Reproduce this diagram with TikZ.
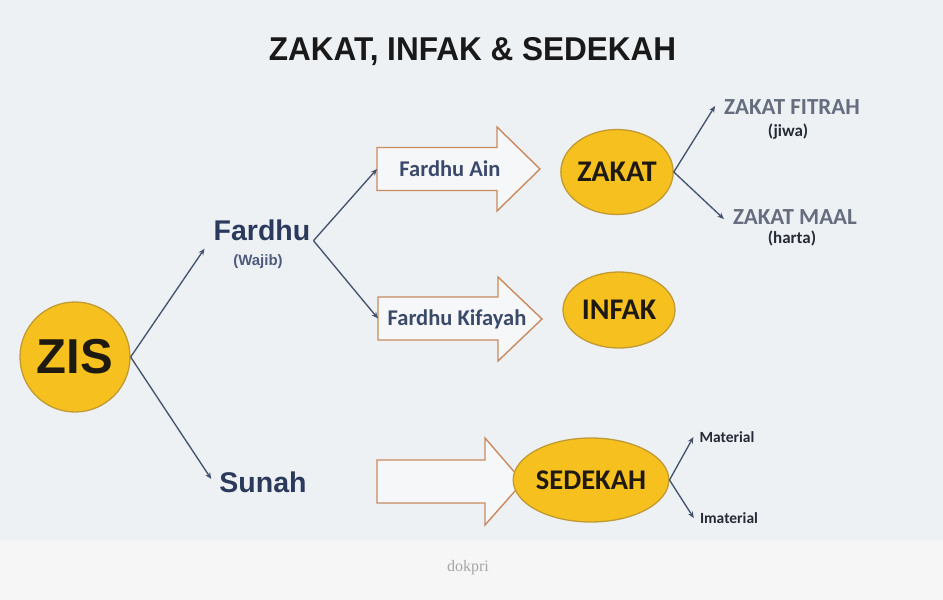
\documentclass[tikz,border=0pt]{standalone}
\usepackage{fontspec}
\setmainfont{Liberation Sans}
\newfontfamily\calib{Carlito}
\newfontfamily\serifdk{Liberation Serif}
\usetikzlibrary{arrows.meta,shapes.geometric}
\definecolor{bgtop}{HTML}{EEF1F4}
\definecolor{bgbot}{HTML}{F6F6F6}
\definecolor{navy}{HTML}{2B3A5C}
\definecolor{navylt}{HTML}{4E5C7C}
\definecolor{arrtxt}{HTML}{3B4A6B}
\definecolor{graytxt}{HTML}{656D7E}
\definecolor{darktxt}{HTML}{262A35}
\definecolor{connc}{HTML}{44546E}
\definecolor{arrline}{HTML}{C98A5F}
\definecolor{arrfill}{HTML}{F5F7F9}
\definecolor{gold}{HTML}{F6C11E}
\definecolor{goldline}{HTML}{C19A34}
\definecolor{ellitxt}{HTML}{1E1A12}
\begin{document}
\begin{tikzpicture}[x=1pt,y=-1pt,
  conn/.style={draw=connc, line width=1.35pt, -{Stealth[length=6.5pt,width=5.5pt]}},
  blockarrow/.style={draw=arrline, line width=1.4pt, fill=arrfill, line join=miter},
  goldcircle/.style={circle, draw=goldline, line width=1.3pt, fill=gold, inner sep=0pt},
  goldellipse/.style={ellipse, draw=goldline, line width=1.3pt, fill=gold, inner sep=0pt,
     text=ellitxt, font=\calib\bfseries\fontsize{30}{34}\selectfont},
  branch/.style={inner sep=0pt, text=navy, font=\bfseries\fontsize{28.5}{32}\selectfont},
  arrowlabel/.style={inner sep=0pt, text=arrtxt, font=\calib\bfseries\fontsize{22.5}{26}\selectfont},
  leaf/.style={inner sep=0pt, text=graytxt, font=\calib\bfseries\fontsize{23}{26}\selectfont},
  note/.style={inner sep=0pt, text=darktxt, font=\calib\bfseries\fontsize{17}{20}\selectfont},
  small/.style={inner sep=0pt, text=darktxt, font=\calib\bfseries\fontsize{15.5}{18}\selectfont}
]
% background
\fill[bgbot] (0,0) rectangle (943,600);
\fill[bgtop] (0,0) rectangle (943,540);
\useasboundingbox (0,0) rectangle (943,600);

% title
\node[inner sep=0pt, text=black!90, font=\bfseries\fontsize{33}{36}\selectfont, xscale=0.955] (title) at (472.5,52) {ZAKAT, INFAK \& SEDEKAH};

% ZIS
\node[goldcircle, minimum size=110pt, font=\bfseries\fontsize{49}{54}\selectfont, text=ellitxt] (zis) at (75,357) {ZIS};

% Fardhu / Sunah
\node[branch] (fardhu) at (262,230) {Fardhu};
\node[inner sep=0pt, text=navylt, font=\bfseries\fontsize{15}{18}\selectfont] (wajib) at (258,262) {(Wajib)};
\node[branch] (sunah) at (263,482) {Sunah};

\draw[conn] (zis.east) -- ([xshift=-9pt,yshift=-8pt]fardhu.south west);
\draw[conn] (zis.east) -- ([xshift=-8pt,yshift=3pt]sunah.west);

% block arrows
\draw[blockarrow] (377,147.5) -- (497,147.5) -- (497,127) -- (540,169) -- (497,211) -- (497,190.5) -- (377,190.5) -- cycle;
\coordinate (ainTail) at (377,169);
\draw[blockarrow] (378,297) -- (498,297) -- (498,277) -- (542,319) -- (498,361) -- (498,340) -- (378,340) -- cycle;
\coordinate (kifTail) at (378,318.5);
\draw[blockarrow] (377,460) -- (485,460) -- (485,438) -- (523,482) -- (485,525) -- (485,503) -- (377,503) -- cycle;

\node[arrowlabel] (ain) at (450,169) {Fardhu Ain};
\node[arrowlabel] (kifayah) at (457,319) {Fardhu Kifayah};

\draw[conn] ([xshift=3pt]fardhu.south east) -- (ainTail);
\draw[conn] ([xshift=3pt]fardhu.south east) -- (kifTail);

% ellipses
\node[goldellipse, minimum width=111pt, minimum height=85pt] (zakat) at (617,172) {ZAKAT};
\node[goldellipse, minimum width=112pt, minimum height=76pt] (infak) at (619,310) {INFAK};
\node[goldellipse, minimum width=122pt, minimum height=84pt, font=\calib\bfseries\fontsize{28.5}{32}\selectfont] (sedekah) at (591,480) {SEDEKAH};

% zakat leaves
\node[leaf] (fitrah) at (792,107) {ZAKAT FITRAH};
\node[note] (jiwa) at (788,132) {(jiwa)};
\node[leaf] (maal) at (795,217) {ZAKAT MAAL};
\node[note] (harta) at (792,238) {(harta)};
\draw[conn] (zakat.east) -- ([xshift=-9pt,yshift=1pt]fitrah.west);
\draw[conn] (zakat.east) -- ([xshift=-9pt,yshift=-2pt]maal.west);

% sedekah leaves
\node[small] (material) at (727,437) {Material};
\node[small] (imaterial) at (729,518) {Imaterial};
\draw[conn] (sedekah.east) -- ([xshift=-6pt]material.west);
\draw[conn] (sedekah.east) -- ([xshift=-6pt]imaterial.west);

% credit
\node[inner sep=0pt, text=black!35, font=\serifdk\fontsize{16}{18}\selectfont] (credit) at (468,568) {dokpri};
\end{tikzpicture}
\end{document}
